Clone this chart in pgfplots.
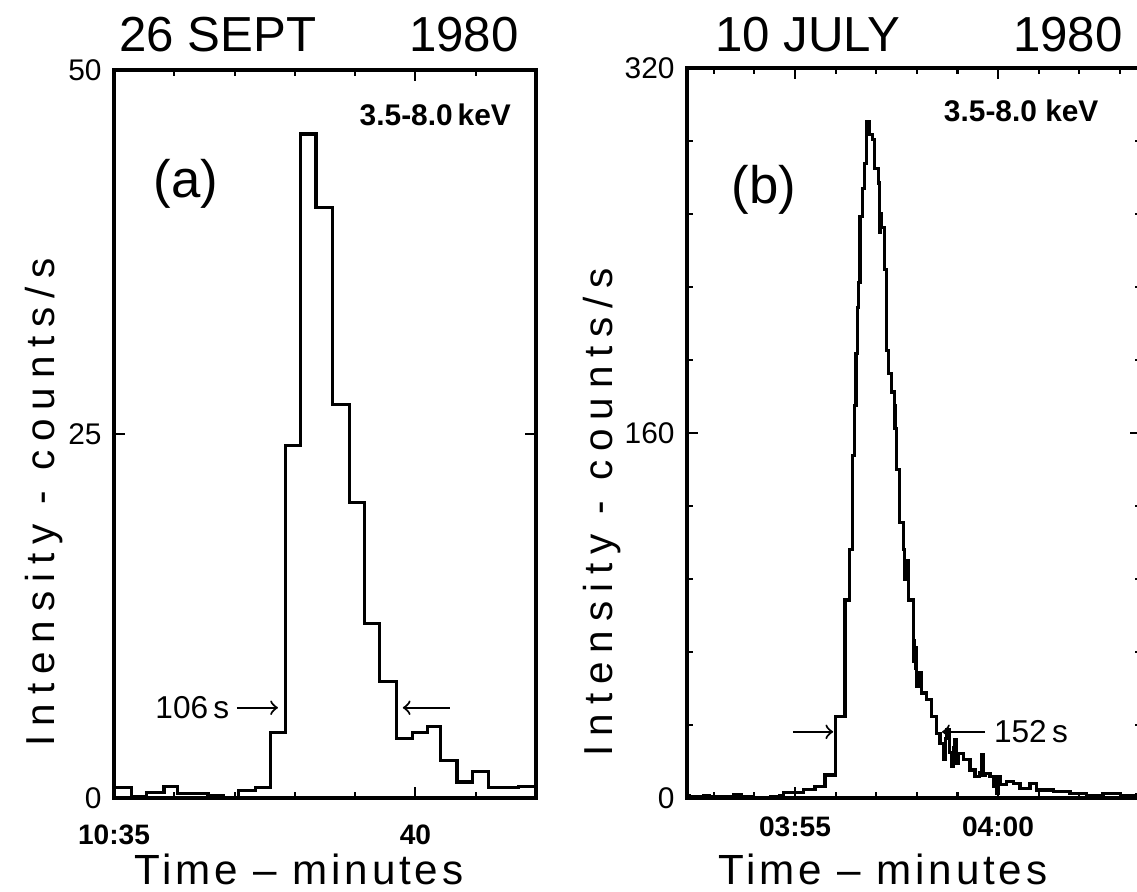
\documentclass[border=0pt]{standalone}
\usepackage{fontspec}
\setmainfont{Liberation Sans}
\newfontfamily\xlblfont[LetterSpace=9]{Liberation Sans}
\newfontfamily\ylblfont[LetterSpace=22]{Liberation Sans}
\usepackage{pgfplots}
\pgfplotsset{compat=1.18}

\pgfplotsset{
  panel/.style={
    scale only axis, anchor=south west,
    axis line style={line width=0.9pt},
    tick align=inside, tick pos=both,
    major tick length=1.1mm, minor tick length=0.6mm,
    tick style={line width=0.6pt, black},
    /pgf/number format/assume math mode=true,
    yticklabel style={font=\fontsize{8.5}{9}\selectfont},
    xticklabel style={font=\bfseries\fontsize{8}{9}\selectfont},
  },
  trace/.style={const plot, black, line width=0.9pt, mark=none},
}

\begin{document}
\begin{tikzpicture}
\useasboundingbox (0,0) rectangle (113.7mm,89.2mm);

% (a) 26 Sept 1980
\begin{axis}[panel,
  at={(11.4mm,9.4mm)}, width=42.2mm, height=72.8mm,
  xmin=35, xmax=42, ymin=0, ymax=50,
  xtick={35,40}, xticklabels={10:35,40},
  minor xtick={36,37,38,39,41,42},
  ytick={0,25,50},
  xticklabel style={yshift=-1.4mm},
]
\addplot[trace] coordinates {
  (35.00,0.7) (35.29,0.1) (35.54,0.36) (35.83,0.8) (36.05,0.33)
  (36.56,0.15) (36.81,0.0) (37.06,0.5) (37.35,0.7) (37.59,4.5)
  (37.84,24.2) (38.10,45.6) (38.35,40.55) (38.62,27.0) (38.90,20.3)
  (39.15,12.0) (39.41,8.0) (39.68,4.1) (39.95,4.5) (40.20,4.9)
  (40.42,2.6) (40.69,1.1) (40.95,1.8) (41.21,0.7) (41.71,0.8) (41.98,0.8)
};
\node[font=\fontsize{15}{16}\selectfont] at (axis cs:36.19,42.2) {(a)};
\node[font=\bfseries\fontsize{8.5}{9}\selectfont] at (axis cs:40.33,46.9) {3.5-8.0\,keV};
\node[font=\fontsize{9}{10}\selectfont] at (axis cs:36.30,6.2) {106\,s};
\draw[->, line width=0.6pt] (axis cs:37.04,6.2) -- (axis cs:37.72,6.2);
\draw[->, line width=0.6pt] (axis cs:40.57,6.2) -- (axis cs:39.79,6.2);
\end{axis}

% (b) 10 July 1980
\begin{axis}[panel,
  at={(68.7mm,9.4mm)}, width=45.4mm, height=73.0mm,
  xmin=52.34, xmax=63.52, ymin=0, ymax=320,
  xtick={55,60}, xticklabels={03:55,04:00},
  minor xtick={53,54,56,57,58,59,61,62,63},
  ytick={0,160,320}, minor ytick={32,64,96,128,192,224,256,288},
  xticklabel style={yshift=-0.6mm},
]
\addplot[trace] coordinates {
  (52.34,1.2) (52.41,0.8) (52.74,1.2) (52.90,0.5) (53.48,1.3) (53.69,0.5)
  (53.97,0.3) (54.40,0.6) (54.63,1.0) (54.71,2.3) (55.21,3.8) (55.49,5.0)
  (55.74,10.1) (55.99,35.7) (56.23,86.8) (56.35,108.8) (56.42,150)
  (56.47,172) (56.50,195) (56.53,215) (56.555,226) (56.60,255) (56.66,267)
  (56.71,278) (56.75,296.6) (56.83,290.8) (56.90,288.6) (56.95,276)
  (57.05,269.6) (57.09,248) (57.11,256) (57.13,250) (57.21,231.6)
  (57.26,196) (57.30,186) (57.38,178) (57.44,172) (57.46,162) (57.505,144)
  (57.57,120.6) (57.667,108.8) (57.70,96) (57.73,104) (57.79,86.8)
  (57.91,69) (57.93,60) (57.95,66) (57.98,57) (58.00,49) (58.037,55)
  (58.121,46) (58.244,43) (58.367,35.7) (58.49,28.4) (58.571,24)
  (58.653,16.7) (58.70,26) (58.736,29.8) (58.80,20) (58.86,13.7)
  (58.90,22) (58.941,25.4) (58.98,15) (59.022,19.6) (59.145,16.7)
  (59.31,12.3) (59.433,9.3) (59.55,11) (59.598,18.9) (59.63,10)
  (59.68,10.8) (59.803,9.3) (59.90,5) (59.968,2) (60.00,9.3) (60.049,6)
  (60.214,7.1) (60.377,6.4) (60.542,4.2) (60.788,6.4) (60.953,3.5)
  (61.362,2.8) (61.773,2.0) (62.185,1.2) (62.586,2.0) (63.005,1.0)
  (63.416,1.5) (63.60,1.5)
};
\node[font=\fontsize{15}{16}\selectfont] at (axis cs:54.24,266.7) {(b)};
\node[font=\bfseries\fontsize{8.5}{9}\selectfont] at (axis cs:60.57,301) {3.5-8.0 keV};
\node[font=\fontsize{9}{10}\selectfont] at (axis cs:60.81,29) {152\,s};
\draw[->, line width=0.6pt] (axis cs:54.95,29) -- (axis cs:55.94,29);
\draw[->, line width=0.6pt] (axis cs:59.68,29) -- (axis cs:58.62,29);
\end{axis}

% titles
\node[anchor=base, font=\fontsize{14}{15}\selectfont] at (21.8mm,84.0mm) {26 SEPT};
\node[anchor=base, font=\fontsize{14}{15}\selectfont] at (46.4mm,84.0mm) {1980};
\node[anchor=base, font=\fontsize{14}{15}\selectfont] at (80.8mm,84.0mm) {10 JULY};
\node[anchor=base, font=\fontsize{14}{15}\selectfont] at (106.8mm,84.0mm) {1980};

% axis labels
\node[rotate=90, font=\ylblfont\fontsize{11.5}{12}\selectfont] at (4.4mm,39.0mm) {Intensity\enspace-\enspace counts/s};
\node[rotate=90, font=\ylblfont\fontsize{11.5}{12}\selectfont] at (60.2mm,38.0mm) {Intensity\enspace-\enspace counts/s};
\node[anchor=base, font=\xlblfont\fontsize{12}{13}\selectfont] at (29.9mm,0.7mm) {Time – minutes};
\node[anchor=base, font=\xlblfont\fontsize{12}{13}\selectfont] at (88.3mm,0.7mm) {Time – minutes};
\end{tikzpicture}
\end{document}
